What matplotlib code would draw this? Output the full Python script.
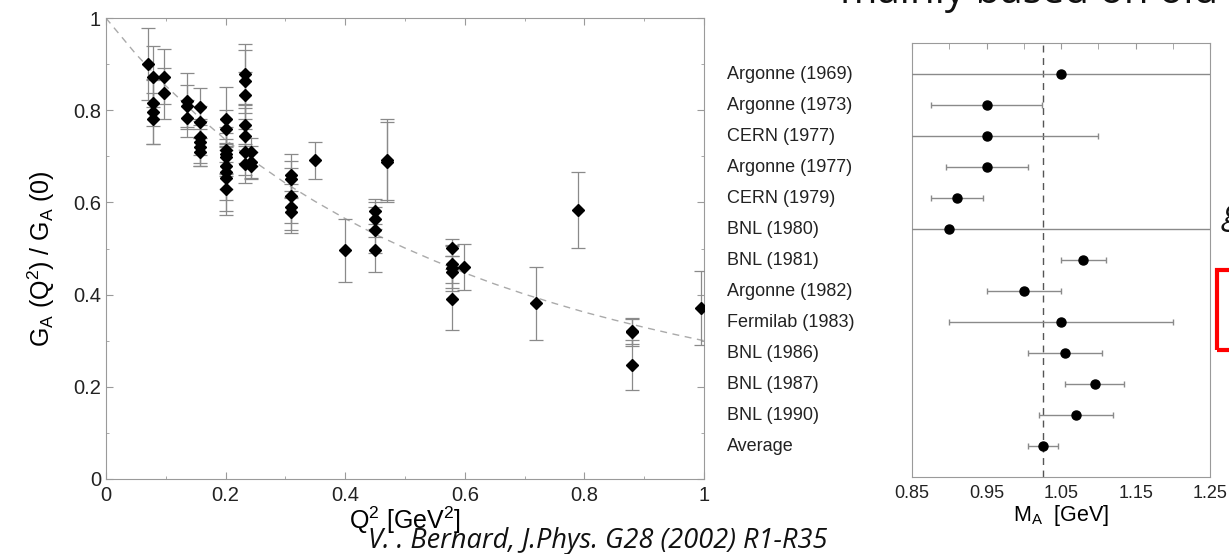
import matplotlib
matplotlib.use("Agg")
import matplotlib.pyplot as plt
from matplotlib.ticker import MultipleLocator, FixedLocator, FormatStrFormatter, FuncFormatter
from matplotlib.patches import Rectangle

# Left panel: G_A(Q^2)/G_A(0) data
q2 = [0.070,
      0.079, 0.079, 0.079, 0.079,
      0.097, 0.097,
      0.136, 0.136, 0.136,
      0.157, 0.157, 0.157, 0.157, 0.157, 0.157,
      0.200, 0.200, 0.200, 0.200, 0.200, 0.200, 0.200, 0.200, 0.200,
      0.232, 0.232, 0.232, 0.232, 0.232, 0.232, 0.232,
      0.242, 0.242, 0.242,
      0.310, 0.310, 0.310, 0.310, 0.310,
      0.349,
      0.400,
      0.450, 0.450, 0.450, 0.450,
      0.470, 0.470,
      0.579, 0.579, 0.579, 0.579, 0.579,
      0.599,
      0.719,
      0.790,
      0.880, 0.880, 0.880,
      0.995]
ga = [0.901,
      0.873, 0.815, 0.797, 0.782,
      0.873, 0.837,
      0.820, 0.809, 0.783,
      0.808, 0.774, 0.742, 0.731, 0.720, 0.709,
      0.782, 0.760, 0.713, 0.706, 0.698, 0.680, 0.666, 0.652, 0.630,
      0.879, 0.863, 0.832, 0.767, 0.745, 0.709, 0.684,
      0.709, 0.688, 0.680,
      0.659, 0.650, 0.615, 0.590, 0.579,
      0.691,
      0.496,
      0.581, 0.563, 0.540, 0.496,
      0.693, 0.688,
      0.502, 0.466, 0.458, 0.449, 0.390,
      0.459,
      0.381,
      0.583,
      0.321, 0.318, 0.247,
      0.371]
ga_err = [0.078,
          0.067, 0.050, 0.070, 0.055,
          0.060, 0.055,
          0.060, 0.045, 0.040,
          0.040, 0.035, 0.040, 0.045, 0.040, 0.030,
          0.068, 0.040, 0.050, 0.045, 0.040, 0.050, 0.060, 0.070, 0.058,
          0.065, 0.068, 0.050, 0.045, 0.060, 0.050, 0.042,
          0.030, 0.035, 0.030,
          0.047, 0.040, 0.060, 0.050, 0.045,
          0.040,
          0.068,
          0.027, 0.038, 0.050, 0.047,
          0.087, 0.087,
          0.018, 0.040, 0.050, 0.035, 0.066,
          0.050,
          0.080,
          0.082,
          0.028, 0.030, 0.054,
          0.080]

# dashed fit curve
curve_q2 = [0.0, 0.05, 0.1, 0.15, 0.2, 0.25, 0.3, 0.35, 0.4, 0.45, 0.5,
            0.55, 0.6, 0.65, 0.7, 0.75, 0.8, 0.85, 0.9, 0.95, 1.0]
curve_ga = [1.0, 0.922, 0.853, 0.792, 0.736, 0.687, 0.642, 0.602, 0.565, 0.531, 0.501,
            0.473, 0.447, 0.423, 0.401, 0.381, 0.362, 0.345, 0.329, 0.314, 0.300]

# Right panel: axial mass determinations
experiments = ["Argonne (1969)", "Argonne (1973)", "CERN (1977)", "Argonne (1977)",
               "CERN (1979)", "BNL (1980)", "BNL (1981)", "Argonne (1982)",
               "Fermilab (1983)", "BNL (1986)", "BNL (1987)", "BNL (1990)", "Average"]
ma = [1.05, 0.95, 0.95, 0.95, 0.91, 0.90, 1.08, 1.00, 1.05, 1.055, 1.095, 1.07, 1.026]
ma_err = [0.50, 0.075, 0.15, 0.055, 0.035, 0.50, 0.03, 0.05, 0.15, 0.05, 0.04, 0.05, 0.02]
ma_avg = 1.026
ma_ticks = [0.85, 0.95, 1.05, 1.15, 1.25]
ma_minor = [0.90, 1.00, 1.10, 1.20]

plt.rcParams['font.family'] = ['Liberation Sans', 'DejaVu Sans']
plt.rcParams['mathtext.fontset'] = 'custom'
plt.rcParams['mathtext.rm'] = 'Liberation Sans'
plt.rcParams['mathtext.it'] = 'Liberation Sans:italic'

spine_col = '#9a9a9a'
err_col = '#8a8a8a'

fig = plt.figure(figsize=(12.29, 5.54), dpi=100)

# ---- left panel
ax1 = fig.add_axes([0.0862, 0.1354, 0.4866, 0.832])
ax1.plot(curve_q2, curve_ga, ls=(0, (5, 4)), color='#aaaaaa', lw=1, zorder=1)
ax1.errorbar(q2, ga, yerr=ga_err, fmt='D', color='black', ms=6.5,
             ecolor=err_col, elinewidth=0.9, capsize=4.8, capthick=0.9, zorder=3)
ax1.set_xlim(0, 1)
ax1.set_ylim(0, 1)
ax1.xaxis.set_major_locator(MultipleLocator(0.2))
ax1.xaxis.set_minor_locator(MultipleLocator(0.1))
ax1.yaxis.set_major_locator(MultipleLocator(0.2))
ax1.yaxis.set_minor_locator(MultipleLocator(0.1))
fmt_g = FuncFormatter(lambda v, p: '%g' % round(v, 2))
ax1.xaxis.set_major_formatter(fmt_g)
ax1.yaxis.set_major_formatter(fmt_g)
ax1.tick_params(which='both', direction='in', top=True, right=True,
                color=spine_col, labelsize=14.5, labelcolor='#222222')
ax1.tick_params(which='major', length=5)
ax1.tick_params(which='minor', length=2.5)
ax1.tick_params(axis='x', pad=5)
for s in ax1.spines.values():
    s.set_color(spine_col)
ax1.set_xlabel('Q$^\\mathregular{2}$ [GeV$^\\mathregular{2}$]', fontsize=18, labelpad=0)
ax1.set_ylabel('G$_\\mathregular{A}$ (Q$^\\mathregular{2}$) / G$_\\mathregular{A}$ (0)',
               fontsize=18)
ax1.yaxis.set_label_coords(-0.082, 0.479)

# ---- right panel
ax2 = fig.add_axes([0.7421, 0.1395, 0.2425, 0.7823])
rows = list(range(1, len(experiments) + 1))
ax2.axvline(ma_avg, color='#555555', ls=(0, (5, 4)), lw=1, zorder=1)
ax2.errorbar(ma, rows, xerr=ma_err, fmt='o', color='black', ms=6.5,
             ecolor=err_col, elinewidth=1, capsize=2.5, capthick=1, zorder=3)
ax2.set_xlim(0.85, 1.25)
ax2.set_ylim(13.98, 0)
ax2.set_yticks([])
ax2.xaxis.set_major_locator(FixedLocator(ma_ticks))
ax2.xaxis.set_minor_locator(FixedLocator(ma_minor))
ax2.xaxis.set_major_formatter(FormatStrFormatter('%.2f'))
ax2.tick_params(axis='x', which='both', direction='in', bottom=False, top=True,
                labelbottom=True, color=spine_col, labelsize=13, labelcolor='#222222', pad=6)
ax2.tick_params(axis='x', which='both', length=4)
for s in ax2.spines.values():
    s.set_color(spine_col)
for r, name in zip(rows, experiments):
    ax2.text(-0.621, r, name, transform=ax2.get_yaxis_transform(),
             ha='left', va='center', fontsize=13, color='#222222')
ax2.set_xlabel('M$_\\mathregular{A}$  [GeV]', fontsize=15.5, labelpad=1)

# ---- slide leftovers
fig.text(368 / 1229, 1 - 548 / 554, 'V. . Bernard, J.Phys. G28 (2002) R1-R35',
         family='Open Sans', style='italic', fontsize=19.5, va='baseline', color='#111111')
fig.text(840 / 1229, 1 - 3 / 554, 'mainly based on old data',
         family='Open Sans', fontsize=29, va='baseline', color='#111111')
fig.text(1223 / 1229, 1 - 224 / 554, 'g', family='Open Sans', style='italic',
         fontsize=25, va='baseline', color='#111111')
fig.patches.append(Rectangle((1217 / 1229, 1 - 350 / 554), 0.05, 80 / 554,
                             transform=fig.transFigure, fill=False,
                             edgecolor='#ff0000', lw=3))

fig.savefig('out.png', dpi=100)
